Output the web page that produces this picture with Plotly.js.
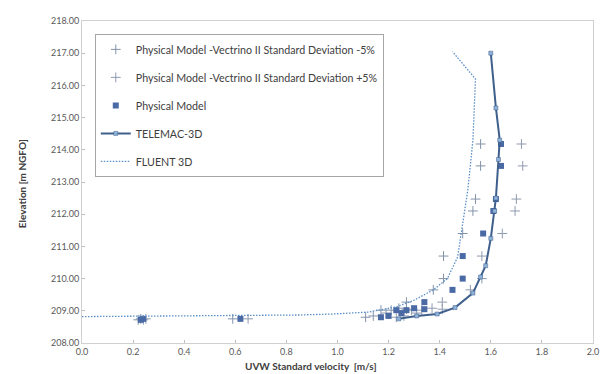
<!DOCTYPE html>
<html>
<head>
<meta charset="utf-8">
<script src="https://cdn.plot.ly/plotly-3.0.1.min.js"></script>
<style>html,body{margin:0;padding:0;background:#fff;}#chart{width:605px;height:374px;}</style>
</head>
<body>
<div id="chart"></div>
<script>
// Physical Model (measured) points
var pmVel = [0.23, 0.24, 0.62, 1.17, 1.20, 1.23, 1.25, 1.27, 1.30, 1.34, 1.34, 1.45, 1.49, 1.49, 1.57, 1.61, 1.62, 1.64, 1.64];
var pmElev = [208.72, 208.75, 208.75, 208.80, 208.84, 209.02, 208.93, 209.02, 209.08, 209.27, 209.05, 209.65, 210.00, 210.70, 211.40, 212.10, 212.47, 213.50, 214.18];
// Standard deviation -5% / +5% crosses
var minusVel = [0.22, 0.23, 0.59, 1.11, 1.14, 1.17, 1.19, 1.21, 1.24, 1.27, 1.27, 1.375, 1.415, 1.415, 1.49, 1.53, 1.54, 1.56, 1.56];
var plusVel = [0.24, 0.25, 0.65, 1.23, 1.26, 1.29, 1.31, 1.33, 1.37, 1.41, 1.41, 1.52, 1.565, 1.565, 1.645, 1.695, 1.70, 1.725, 1.72];
// TELEMAC-3D profile
var telVel = [1.24, 1.31, 1.39, 1.46, 1.53, 1.56, 1.58, 1.60, 1.615, 1.62, 1.63, 1.635, 1.62, 1.60];
var telElev = [208.75, 208.84, 208.90, 209.10, 209.55, 210.05, 210.40, 211.25, 212.10, 212.50, 213.70, 214.30, 215.30, 217.00];
// FLUENT 3D profile
var fluVel = [0.00, 0.40, 0.85, 0.98, 1.12, 1.23, 1.30, 1.375, 1.43, 1.47, 1.49, 1.51, 1.53, 1.54, 1.45];
var fluElev = [208.82, 208.84, 208.87, 208.90, 208.96, 209.12, 209.33, 209.65, 210.00, 210.67, 211.73, 212.75, 214.30, 216.20, 217.05];

var traces = [
  {x: minusVel, y: pmElev, type: 'scatter', mode: 'markers', name: 'Physical Model -Vectrino II Standard Deviation -5%',
   legendgroup: 'a', marker: {symbol: 'cross-thin-open', size: 7, color: '#8393aa', line: {color: '#8393aa', width: 1}}},
  {x: plusVel, y: pmElev, type: 'scatter', mode: 'markers', name: 'Physical Model -Vectrino II Standard Deviation +5%',
   legendgroup: 'b', marker: {symbol: 'cross-thin-open', size: 7, color: '#8f9bb0', line: {color: '#8f9bb0', width: 1}}},
  {x: pmVel, y: pmElev, type: 'scatter', mode: 'markers', name: 'Physical Model',
   legendgroup: 'c', marker: {symbol: 'square', size: 6, color: '#4a6aa5'}},
  {x: telVel, y: telElev, type: 'scatter', mode: 'lines+markers', name: 'TELEMAC-3D',
   legendgroup: 'd', line: {color: '#3f5f8c', width: 2},
   marker: {symbol: 'square', size: 4, color: '#8fb2d8', line: {color: '#3f5f8c', width: 0.5}}},
  {x: fluVel, y: fluElev, type: 'scatter', mode: 'lines', name: 'FLUENT 3D',
   legendgroup: 'e', line: {color: '#5b8fc7', width: 1.3, dash: '1.5px,1.5px'}}
];

var axisFont = {family: 'Lato, "Open Sans", sans-serif', size: 9, color: '#595959'};
var layout = {
  width: 605, height: 374,
  margin: {l: 82, r: 12, t: 21, b: 31},
  paper_bgcolor: '#ffffff', plot_bgcolor: '#ffffff',
  font: {family: 'Lato, "Open Sans", sans-serif', color: '#404040'},
  xaxis: {range: [0, 2.0], dtick: 0.2, tick0: 0, tickformat: '.1f', showgrid: false, zeroline: false,
          showline: true, linecolor: '#d0d0d0', linewidth: 1, mirror: true,
          ticks: 'inside', ticklen: 3, tickcolor: '#c0c0c0', tickfont: axisFont},
  yaxis: {range: [208, 218], dtick: 1, tick0: 208, tickformat: '.2f', showgrid: false, zeroline: false,
          showline: true, linecolor: '#d0d0d0', linewidth: 1, mirror: true,
          ticks: 'inside', ticklen: 3, tickcolor: '#c0c0c0', tickfont: axisFont},
  showlegend: true,
  legend: {x: 0.025, y: 0.96, xanchor: 'left', yanchor: 'top', bgcolor: '#ffffff',
           bordercolor: '#a6a6a6', borderwidth: 1, traceorder: 'grouped', tracegroupgap: 9,
           font: {size: 10.7, color: '#404040'}},
  annotations: [
    {text: '<b>UVW Standard velocity  [m/s]</b>', xref: 'paper', yref: 'paper', x: 0.448, y: -0.0714,
     xanchor: 'center', yanchor: 'middle', showarrow: false, font: {size: 10, color: '#404040'}},
    {text: '<b>Elevation [m NGFO]</b>', xref: 'paper', yref: 'paper', x: -0.117, y: 0.494,
     xanchor: 'center', yanchor: 'middle', textangle: -90, showarrow: false, font: {size: 10, color: '#404040'}}
  ]
};
Plotly.newPlot('chart', traces, layout, {displayModeBar: false, staticPlot: true});
</script>
</body>
</html>
